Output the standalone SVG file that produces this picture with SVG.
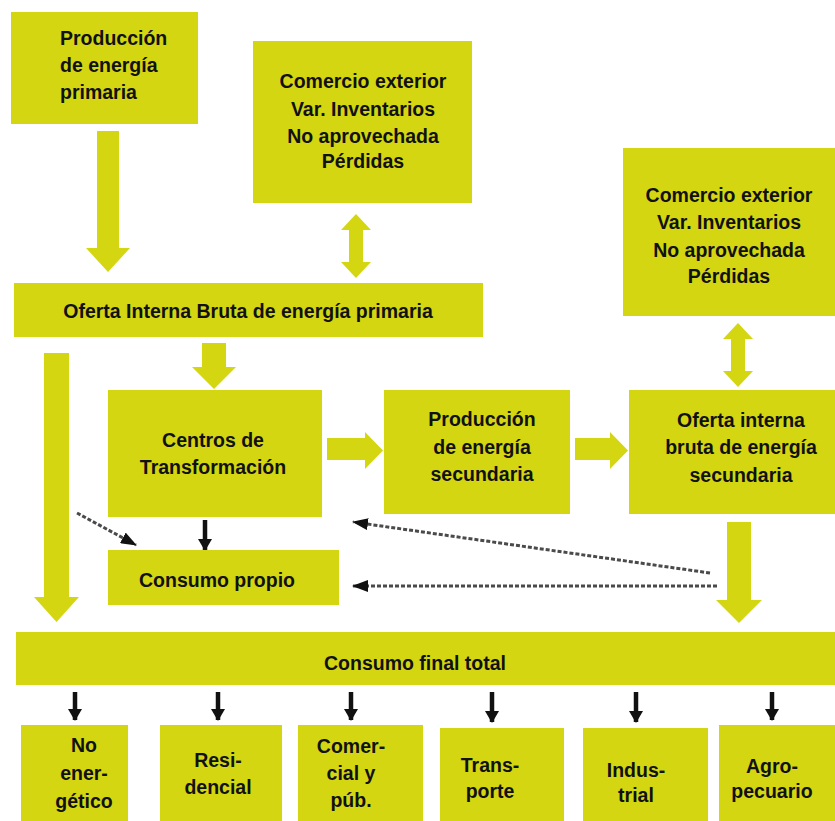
<svg xmlns="http://www.w3.org/2000/svg" width="835" height="821" viewBox="0 0 835 821">
<defs>
<style>
.box{fill:#d4d612}
.blk{fill:#d4d612}
text{font-family:"Liberation Sans",Arial,sans-serif;font-weight:bold;font-size:19.5px;fill:#111111}
.c{text-anchor:middle}
.dash{stroke:#4a4a4a;stroke-width:3;stroke-dasharray:4 2;fill:none}
.sa{stroke:#111;stroke-width:4.5;fill:none}
</style>
<marker id="ah" viewBox="0 0 16 12" refX="15" refY="6" markerWidth="16" markerHeight="12" markerUnits="userSpaceOnUse" orient="auto">
<path d="M0,0 L16,6 L0,12 Z" fill="#111"/>
</marker>
<marker id="ahs" viewBox="0 0 12 14" refX="11" refY="7" markerWidth="12" markerHeight="14" markerUnits="userSpaceOnUse" orient="auto">
<path d="M0,0 L12,7 L0,14 Z" fill="#111"/>
</marker>
</defs>
<rect width="835" height="821" fill="#ffffff"/>

<g id="connectors">
<polygon class="blk" points="97,131 119,131 119,248 130,248 108,272 86,248 97,248"/>
<polygon class="blk" points="356,214 371,230 363,230 363,262 371,262 356,278 341,262 349,262 349,230 341,230"/>
<polygon class="blk" points="738,323 753,339 745,339 745,371 753,371 738,387 723,371 731,371 731,339 723,339"/>
<polygon class="blk" points="202,343 226,343 226,367 236,367 214,389 192,367 202,367"/>
<polygon class="blk" points="44,353 69,353 69,597 79,597 56.5,622 34,597 44,597"/>
<polygon class="blk" points="327,438 365,438 365,432 383,450.5 365,469 365,460 327,460"/>
<polygon class="blk" points="575,438 610,438 610,432 628,450.5 610,469 610,460 575,460"/>
<polygon class="blk" points="727,522 751,522 751,600 762,600 739,623 716,600 727,600"/>
<line class="dash" x1="77" y1="513" x2="136" y2="545" marker-end="url(#ah)"/>
<line class="sa" x1="205" y1="520" x2="205" y2="550" marker-end="url(#ahs)"/>
<line class="dash" x1="710" y1="573" x2="353" y2="522" marker-end="url(#ah)"/>
<line class="dash" x1="717" y1="586" x2="353" y2="586" marker-end="url(#ah)"/>
<line class="sa" x1="75" y1="692" x2="75" y2="720" marker-end="url(#ahs)"/>
<line class="sa" x1="218" y1="692" x2="218" y2="720" marker-end="url(#ahs)"/>
<line class="sa" x1="351" y1="692" x2="351" y2="720" marker-end="url(#ahs)"/>
<line class="sa" x1="492" y1="692" x2="492" y2="722" marker-end="url(#ahs)"/>
<line class="sa" x1="636" y1="692" x2="636" y2="722" marker-end="url(#ahs)"/>
<line class="sa" x1="772" y1="692" x2="772" y2="720" marker-end="url(#ahs)"/>
</g>

<g id="prod-primaria">
<rect class="box" x="11" y="12" width="187" height="112"/>
<text x="60" y="45">Producción</text>
<text x="60" y="72">de energía</text>
<text x="60" y="99">primaria</text>
</g>

<g id="comercio-1">
<rect class="box" x="253" y="41" width="219" height="162"/>
<text class="c" x="363" y="88">Comercio exterior</text>
<text class="c" x="363" y="116">Var. Inventarios</text>
<text class="c" x="363" y="143">No aprovechada</text>
<text class="c" x="363" y="168">Pérdidas</text>
</g>

<g id="comercio-2">
<rect class="box" x="623" y="148" width="212" height="168"/>
<text class="c" x="729" y="202">Comercio exterior</text>
<text class="c" x="729" y="229">Var. Inventarios</text>
<text class="c" x="729" y="257">No aprovechada</text>
<text class="c" x="729" y="283">Pérdidas</text>
</g>

<g id="oferta-primaria">
<rect class="box" x="14" y="283" width="469" height="54"/>
<text class="c" x="248" y="318">Oferta Interna Bruta de energía primaria</text>
</g>

<g id="centros">
<rect class="box" x="108" y="390" width="214" height="127"/>
<text class="c" x="213" y="447">Centros de</text>
<text class="c" x="213" y="474">Transformación</text>
</g>

<g id="prod-secundaria">
<rect class="box" x="384" y="390" width="186" height="124"/>
<text class="c" x="482" y="426">Producción</text>
<text class="c" x="482" y="454">de energía</text>
<text class="c" x="482" y="481">secundaria</text>
</g>

<g id="oferta-secundaria">
<rect class="box" x="629" y="390" width="206" height="124"/>
<text class="c" x="741" y="427">Oferta interna</text>
<text class="c" x="741" y="454">bruta de energía</text>
<text class="c" x="741" y="482">secundaria</text>
</g>

<g id="consumo-propio">
<rect class="box" x="108" y="550" width="231" height="55"/>
<text class="c" x="217" y="587">Consumo propio</text>
</g>

<g id="consumo-final">
<rect class="box" x="16" y="632" width="819" height="53"/>
<text class="c" x="415" y="670">Consumo final total</text>
</g>

<g id="no-energetico">
<rect class="box" x="21" y="725" width="107" height="96"/>
<text class="c" x="84" y="752">No</text>
<text class="c" x="84" y="780">ener-</text>
<text class="c" x="84" y="808">gético</text>
</g>

<g id="residencial">
<rect class="box" x="160" y="725" width="122" height="96"/>
<text class="c" x="218" y="767">Resi-</text>
<text class="c" x="218" y="794">dencial</text>
</g>

<g id="comercial">
<rect class="box" x="298" y="725" width="125" height="96"/>
<text class="c" x="351" y="753">Comer-</text>
<text class="c" x="351" y="780">cial y</text>
<text class="c" x="351" y="807">púb.</text>
</g>

<g id="transporte">
<rect class="box" x="440" y="728" width="124" height="93"/>
<text class="c" x="490" y="772">Trans-</text>
<text class="c" x="490" y="798">porte</text>
</g>

<g id="industrial">
<rect class="box" x="583" y="728" width="125" height="93"/>
<text class="c" x="636" y="777">Indus-</text>
<text class="c" x="636" y="802">trial</text>
</g>

<g id="agropecuario">
<rect class="box" x="719" y="725" width="116" height="96"/>
<text class="c" x="772" y="773">Agro-</text>
<text class="c" x="772" y="798">pecuario</text>
</g>
</svg>
